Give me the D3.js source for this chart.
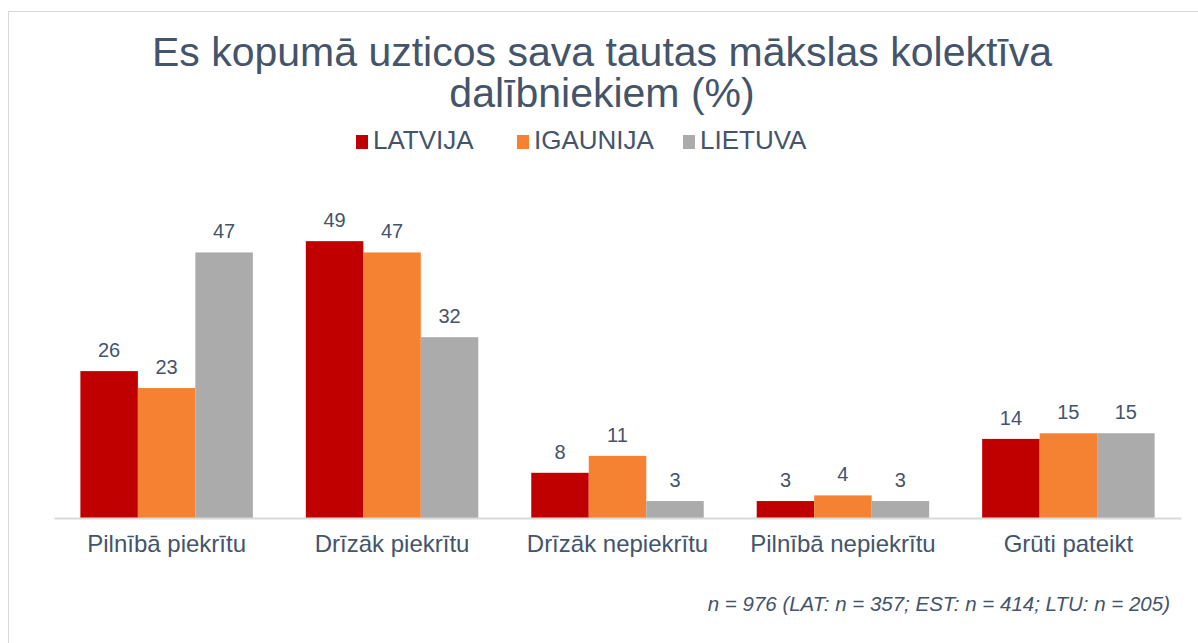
<!DOCTYPE html>
<html>
<head>
<meta charset="utf-8">
<script src="https://cdn.jsdelivr.net/npm/d3@7"></script>
<style>
  body { margin: 0; background: #fff; }
  svg text { font-family: "Liberation Sans", Arial, Helvetica, sans-serif; fill: #44546a; }
</style>
</head>
<body>
<svg id="chart" width="1198" height="643"></svg>
<script>
"use strict"

// data
const categories = ['Pilnībā piekrītu', 'Drīzāk piekrītu', 'Drīzāk nepiekrītu', 'Pilnībā nepiekrītu', 'Grūti pateikt']
const seriesNames = ['LATVIJA', 'IGAUNIJA', 'LIETUVA']
const latvija = [26, 49, 8, 3, 14]
const igaunija = [23, 47, 11, 4, 15]
const lietuva = [47, 32, 3, 3, 15]
const colors = ['#c00000', '#f58233', '#ababab']
const titleLines = ['Es kopumā uzticos sava tautas mākslas kolektīva', 'dalībniekiem (%)']
const footnote = 'n = 976 (LAT: n = 357; EST: n = 414; LTU: n = 205)'

const seriesValues = [latvija, igaunija, lietuva]

const svg = d3.select('#chart')

// outer frame (runs off the canvas to the right and bottom)
svg.append('rect')
  .attr('x', 8.5).attr('y', 11.5)
  .attr('width', 1300).attr('height', 800)
  .attr('fill', 'none').attr('stroke', '#d9d9d9').attr('stroke-width', 1)

/****** title ******/
svg.append('g').selectAll('text')
  .data(titleLines)
  .enter().append('text')
    .attr('x', 602)
    .attr('y', (d, i) => 66 + i * 41)
    .attr('text-anchor', 'middle')
    .style('font-size', '41px')
    .text(d => d)

/****** legend ******/
const legendX = [356, 517, 683]
const legend = svg.append('g').selectAll('g')
  .data(seriesNames)
  .enter().append('g')
    .attr('transform', (d, i) => `translate(${legendX[i]},0)`)
legend.append('rect')
  .attr('x', 0).attr('y', 135)
  .attr('width', 12).attr('height', 14)
  .attr('fill', (d, i) => colors[i])
legend.append('text')
  .attr('x', 17).attr('y', 149)
  .style('font-size', '26px')
  .text(d => d)

/****** scales ******/
const x0 = d3.scaleBand().domain(categories).range([54, 1181]).paddingInner(0.235).paddingOuter(0.117)
const x1 = d3.scaleBand().domain(seriesNames).range([0, x0.bandwidth()])
const y = d3.scaleLinear().domain([0, 60]).range([518, 179])

const groups = svg.append('g').selectAll('g')
  .data(categories)
  .enter().append('g')
    .attr('transform', d => `translate(${x0(d)},0)`)

const cells = groups.selectAll('g')
  .data((c, ci) => seriesNames.map((s, si) => ({ s, si, v: seriesValues[si][ci] })))
  .enter().append('g')

cells.append('rect')
  .attr('x', d => x1(d.s))
  .attr('y', d => y(d.v))
  .attr('width', x1.bandwidth())
  .attr('height', d => y(0) - y(d.v))
  .attr('fill', d => colors[d.si])

cells.append('text')
  .attr('x', d => x1(d.s) + x1.bandwidth() / 2)
  .attr('y', d => y(d.v) - 14)
  .attr('text-anchor', 'middle')
  .style('font-size', '20px')
  .text(d => d.v)

/****** axis ******/
const xAxis = svg.append('g')
  .attr('transform', `translate(0,${y(0)})`)
  .call(d3.axisBottom(x0).tickSize(0).tickPadding(17))
xAxis.select('.domain').attr('stroke', '#d9d9d9').attr('stroke-width', 2)
xAxis.selectAll('.tick text')
  .style('font-size', '24px')
  .style('font-family', '"Liberation Sans", Arial, sans-serif')
  .attr('fill', '#44546a')

/****** footnote ******/
svg.append('text')
  .attr('x', 1170).attr('y', 611)
  .attr('text-anchor', 'end')
  .style('font-size', '20.5px')
  .style('font-style', 'italic')
  .text(footnote)
</script>
</body>
</html>
